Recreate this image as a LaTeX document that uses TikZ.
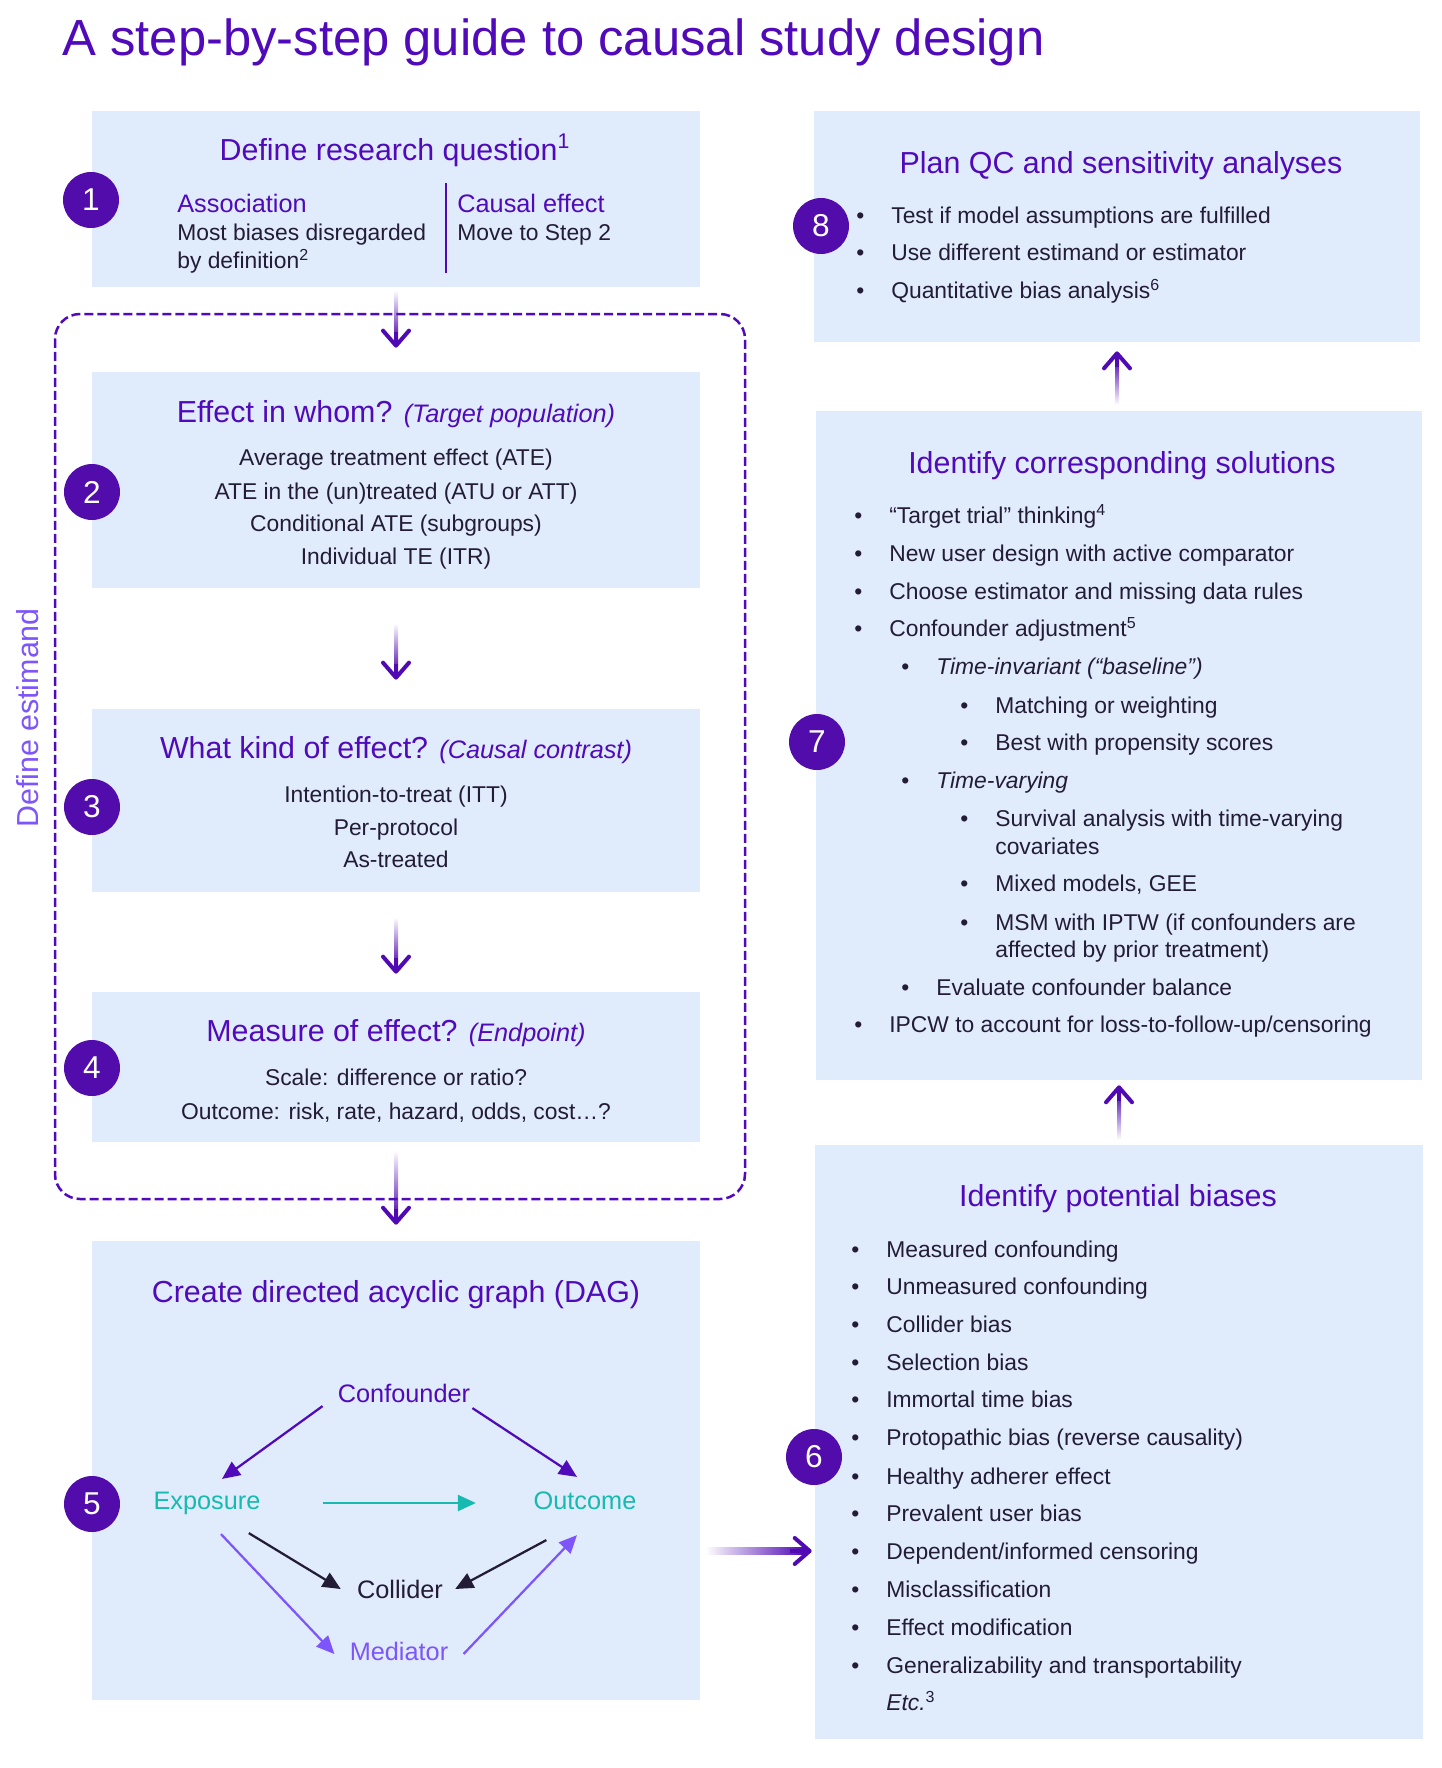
\documentclass[tikz,border=0pt]{standalone}
\usepackage{fontspec}
\setmainfont{Liberation Sans}
\usepackage{xcolor}
\usepackage{tikz}
\usetikzlibrary{arrows.meta}

\definecolor{boxblue}{RGB}{224,235,252}
\definecolor{titlepurple}{RGB}{80,10,185}
\definecolor{numpurple}{RGB}{82,12,172}
\definecolor{darktext}{RGB}{35,28,55}
\definecolor{dagteal}{RGB}{22,186,176}
\definecolor{lightviolet}{RGB}{125,85,250}
\definecolor{flowpurple}{RGB}{80,10,180}

\newcommand{\bitem}{\makebox[0.7cm][l]{•}}

\tikzstyle{stepbox} = [rectangle, fill=boxblue, inner sep=0pt]
\tikzstyle{stepnum} = [circle, fill=numpurple, text=white, minimum size=1.12cm, inner sep=0pt, font=\fontsize{18}{21}\selectfont]
\tikzstyle{boxtitle} = [inner sep=0pt, anchor=base, text=titlepurple, font=\fontsize{17.3}{21}\selectfont]
\tikzstyle{boxline} = [inner sep=0pt, anchor=base, text=darktext, font=\fontsize{13}{16}\selectfont]
\tikzstyle{listline} = [boxline, anchor=base west]
\tikzstyle{dagnode} = [inner sep=0.1cm, text height=0.37cm, text depth=0.1cm, font=\fontsize{14.4}{17}\selectfont]
\tikzstyle{dagarrow} = [line width=0.045cm, -{Triangle[length=0.36cm,width=0.32cm]}]
\tikzstyle{flowhead} = [draw=flowpurple, line width=0.08cm, -{Straight Barb[length=0.3cm,width=0.52cm,round]}]
\tikzstyle{estimandline} = [titlepurple, line width=0.05cm, dash pattern=on 0.18cm off 0.08cm, rounded corners=0.5cm]

\begin{document}
\begin{tikzpicture}[x=0.02cm,y=-0.02cm]
\useasboundingbox (0,0) rectangle (1442,1768);

% Title
\node[anchor=base west, inner sep=0pt, text=titlepurple, font=\fontsize{28.9}{34}\selectfont] (title) at (62,55) {A step-by-step guide to causal study design};

% Boxes
\node[stepbox, minimum width=12.16cm, minimum height=3.52cm] (b1) at (396,199) {};
\node[stepbox, minimum width=12.16cm, minimum height=4.32cm] (b2) at (396,480) {};
\node[stepbox, minimum width=12.16cm, minimum height=3.66cm] (b3) at (396,800.5) {};
\node[stepbox, minimum width=12.16cm, minimum height=3.0cm] (b4) at (396,1067) {};
\node[stepbox, minimum width=12.16cm, minimum height=9.18cm] (b5) at (396,1470.5) {};
\node[stepbox, minimum width=12.16cm, minimum height=11.88cm] (b6) at (1119,1442) {};
\node[stepbox, minimum width=12.14cm, minimum height=13.38cm] (b7) at (1119,745.5) {};
\node[stepbox, minimum width=12.12cm, minimum height=4.62cm] (b8) at (1117,226.5) {};

% Flow arrows:
% shaft is a shaded bar, the head is drawn on top of it
\shade[top color=white, bottom color=flowpurple] ([xshift=-0.04cm,yshift=-0.06cm]b1.south) rectangle ([xshift=0.04cm,yshift=0.64cm]b2.north);
\draw[flowhead] ([yshift=0.8cm]b2.north) -- ([yshift=0.48cm]b2.north);

\shade[top color=white, bottom color=flowpurple] ([xshift=-0.04cm,yshift=-0.7cm]b2.south) rectangle ([xshift=0.04cm,yshift=0.74cm]b3.north);
\draw[flowhead] ([yshift=0.9cm]b3.north) -- ([yshift=0.58cm]b3.north);

\shade[top color=white, bottom color=flowpurple] ([xshift=-0.04cm,yshift=-0.5cm]b3.south) rectangle ([xshift=0.04cm,yshift=0.52cm]b4.north);
\draw[flowhead] ([yshift=0.68cm]b4.north) -- ([yshift=0.36cm]b4.north);

\shade[top color=white, bottom color=flowpurple] ([xshift=-0.04cm,yshift=-0.16cm]b4.south) rectangle ([xshift=0.04cm,yshift=0.48cm]b5.north);
\draw[flowhead] ([yshift=0.64cm]b5.north) -- ([yshift=0.32cm]b5.north);

\shade[left color=white, right color=flowpurple] ([xshift=0.1cm,yshift=-1.53cm]b5.east) rectangle ([xshift=-0.22cm,yshift=-2.26cm]b6.west);
\draw[flowhead] ([xshift=-0.5cm,yshift=-2.18cm]b6.west) -- ([xshift=-0.06cm,yshift=-2.18cm]b6.west);

\shade[top color=flowpurple, bottom color=white] ([xshift=-0.04cm,yshift=-0.26cm]b7.south) rectangle ([xshift=0.04cm,yshift=0.1cm]b6.north);
\draw[flowhead] ([yshift=-0.42cm]b7.south) -- ([yshift=-0.1cm]b7.south);

\shade[top color=flowpurple, bottom color=white] ([xshift=-0.04cm,yshift=-0.34cm]b8.south) rectangle ([yshift=0.12cm]b7.north);
\draw[flowhead] ([yshift=-0.5cm]b8.south) -- ([yshift=-0.18cm]b8.south);

% Estimand frame
\draw[estimandline] (55,314) rectangle (745,1199);
\node[rotate=90, inner sep=0pt, text=lightviolet, font=\fontsize{17.3}{21}\selectfont] (estimand) at (28,718) {Define estimand};

% Step 1
\node[boxtitle] (q1) at (395,160) {Define research question\textsuperscript{1}};
\node[listline, text=titlepurple, font=\fontsize{14.4}{17}\selectfont] (assoc) at (177,212) {Association};
\node[listline] (assoca) at (177,240) {Most biases disregarded};
\node[listline] (assocb) at (177,268) {by definition\textsuperscript{2}};
\draw[titlepurple, line width=0.03cm] (446,183) -- (446,273);
\node[listline, text=titlepurple, font=\fontsize{14.4}{17}\selectfont] (causal) at (457,212) {Causal effect};
\node[listline] (causala) at (457,240) {Move to Step 2};

% Step 2
\node[boxtitle] (q2) at (396,422) {Effect in whom? {\fontsize{14.4}{17}\selectfont\itshape (Target population)}};
\node[boxline] (l2a) at (396,465) {Average treatment effect (ATE)};
\node[boxline] (l2b) at (396,499) {ATE in the (un)treated (ATU or ATT)};
\node[boxline] (l2c) at (396,531) {Conditional ATE (subgroups)};
\node[boxline] (l2d) at (396,564) {Individual TE (ITR)};

% Step 3
\node[boxtitle] (q3) at (396,758) {What kind of effect? {\fontsize{14.4}{17}\selectfont\itshape (Causal contrast)}};
\node[boxline] (l3a) at (396,802) {Intention-to-treat (ITT)};
\node[boxline] (l3b) at (396,835) {Per-protocol};
\node[boxline] (l3c) at (396,867) {As-treated};

% Step 4
\node[boxtitle] (q4) at (396,1041) {Measure of effect? {\fontsize{14.4}{17}\selectfont\itshape (Endpoint)}};
\node[boxline] (l4a) at (396,1085) {Scale: difference or ratio?};
\node[boxline] (l4b) at (396,1119) {Outcome: risk, rate, hazard, odds, cost…?};

% Step 5: DAG
\node[boxtitle] (q5) at (396,1302) {Create directed acyclic graph (DAG)};
\node[dagnode, text=titlepurple] (conf) at (404,1396) {Confounder};
\node[dagnode, text=dagteal] (expo) at (207,1503) {Exposure};
\node[dagnode, text=dagteal] (outc) at (585,1503) {Outcome};
\node[dagnode, text=darktext] (coll) at (400,1592) {Collider};
\node[dagnode, text=lightviolet] (medi) at (399,1654) {Mediator};

\draw[dagarrow, titlepurple] ([xshift=-0.2cm,yshift=0.14cm]conf.south west) -- ([xshift=0.3cm,yshift=0.14cm]expo.north);
\draw[dagarrow, titlepurple] ([xshift=-0.06cm,yshift=0.1cm]conf.south east) -- ([xshift=-0.16cm,yshift=0.18cm]outc.north);
\draw[dagarrow, dagteal, shorten <=1.14cm, shorten >=1.05cm] (expo.east) -- (outc.west);
\draw[dagarrow, darktext] ([xshift=-0.34cm,yshift=-0.26cm]expo.south east) -- ([xshift=-0.22cm,yshift=0.06cm]coll.west);
\draw[dagarrow, darktext] ([xshift=0.36cm,yshift=-0.4cm]outc.south west) -- ([xshift=0.14cm,yshift=0.06cm]coll.east);
\draw[dagarrow, lightviolet] ([xshift=0.28cm,yshift=-0.28cm]expo.south) -- ([xshift=-0.2cm]medi.west);
\draw[dagarrow, lightviolet] ([xshift=0.2cm]medi.east) -- ([xshift=-0.16cm,yshift=-0.3cm]outc.south);

% Step 8
\node[boxtitle] (q8) at (1121,173) {Plan QC and sensitivity analyses};
\node[listline] (l8a) at (856,223) {\bitem Test if model assumptions are fulfilled};
\node[listline] (l8b) at (856,260) {\bitem Use different estimand or estimator};
\node[listline] (l8c) at (856,298) {\bitem Quantitative bias analysis\textsuperscript{6}};

% Step 7
\node[boxtitle] (q7) at (1122,473) {Identify corresponding solutions};
\node[listline] (l7a) at (854,523) {\bitem “Target trial” thinking\textsuperscript{4}};
\node[listline] (l7b) at (854,561) {\bitem New user design with active comparator};
\node[listline] (l7c) at (854,599) {\bitem Choose estimator and missing data rules};
\node[listline] (l7d) at (854,636) {\bitem Confounder adjustment\textsuperscript{5}};
\node[listline] (l7e) at (901,674) {\bitem \textit{Time-invariant (“baseline”)}};
\node[listline] (l7f) at (960,713) {\bitem Matching or weighting};
\node[listline] (l7g) at (960,750) {\bitem Best with propensity scores};
\node[listline] (l7h) at (901,788) {\bitem \textit{Time-varying}};
\node[listline] (l7i) at (960,826) {\bitem Survival analysis with time-varying};
\node[listline] (l7j) at (995,854) {covariates};
\node[listline] (l7k) at (960,891) {\bitem Mixed models, GEE};
\node[listline] (l7l) at (960,930) {\bitem MSM with IPTW (if confounders are};
\node[listline] (l7m) at (995,957) {affected by prior treatment)};
\node[listline] (l7n) at (901,995) {\bitem Evaluate confounder balance};
\node[listline] (l7o) at (854,1032) {\bitem IPCW to account for loss-to-follow-up/censoring};

% Step 6
\node[boxtitle] (q6) at (1118,1206) {Identify potential biases};
\node[listline] (l6a) at (851,1257) {\bitem Measured confounding};
\node[listline] (l6b) at (851,1294) {\bitem Unmeasured confounding};
\node[listline] (l6c) at (851,1332) {\bitem Collider bias};
\node[listline] (l6d) at (851,1370) {\bitem Selection bias};
\node[listline] (l6e) at (851,1407) {\bitem Immortal time bias};
\node[listline] (l6f) at (851,1445) {\bitem Protopathic bias (reverse causality)};
\node[listline] (l6g) at (851,1484) {\bitem Healthy adherer effect};
\node[listline] (l6h) at (851,1521) {\bitem Prevalent user bias};
\node[listline] (l6i) at (851,1559) {\bitem Dependent/informed censoring};
\node[listline] (l6j) at (851,1597) {\bitem Misclassification};
\node[listline] (l6k) at (851,1635) {\bitem Effect modification};
\node[listline] (l6l) at (851,1673) {\bitem Generalizability and transportability};
\node[listline] (l6m) at (886,1710) {\textit{Etc.}\textsuperscript{3}};

% Step numbers
\node[stepnum] (n1) at (91,200) {1};
\node[stepnum] (n2) at (92,492) {2};
\node[stepnum] (n3) at (92,807) {3};
\node[stepnum] (n4) at (92,1068) {4};
\node[stepnum] (n5) at (92,1504) {5};
\node[stepnum] (n6) at (814,1457) {6};
\node[stepnum] (n7) at (817,742) {7};
\node[stepnum] (n8) at (821,226) {8};

\end{tikzpicture}
\end{document}
